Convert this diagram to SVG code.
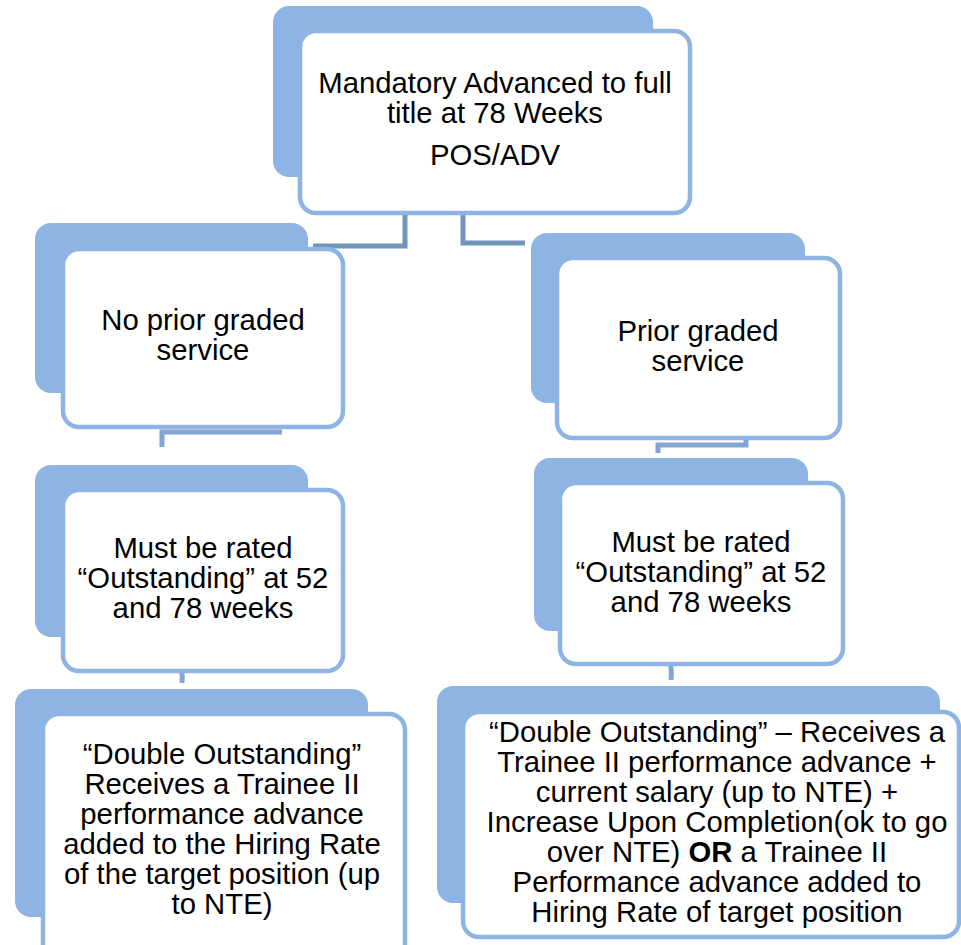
<svg xmlns="http://www.w3.org/2000/svg" width="961" height="945" viewBox="0 0 961 945">
  <style>
    .back { fill: #8EB4E3; }
    .front { fill: #FFFFFF; stroke: #8EB4E3; stroke-width: 4.5; }
    .lbl { font-family: "Liberation Sans", Arial, sans-serif; font-size: 29.3px; fill: #000000; text-anchor: middle; }
    .conn-top { fill: none; stroke: #7294BE; stroke-width: 5; }
    .conn { fill: none; stroke: #82A5D2; stroke-width: 5; }
  </style>
  <rect width="961" height="945" fill="#FFFFFF"/>

  <!-- connectors (drawn beneath the boxes) -->
  <g id="connectors">
    <path class="conn-top" d="M405,211 V246 H313"/>
    <path class="conn-top" d="M463,211 V243 H525"/>
    <path class="conn" d="M282,432 H162 V447"/>
    <path class="conn" d="M746,436 V445 H658 V453"/>
    <path class="conn" d="M181,669 Q183,676 182,683"/>
    <path class="conn" d="M670,662 Q672,670 671,680"/>
  </g>

  <!-- root -->
  <g id="node-root">
    <rect class="back" x="273" y="6" width="380" height="171" rx="16"/>
    <rect class="front" x="300" y="31" width="390" height="182" rx="16"/>
    <text class="lbl" x="495" y="93">Mandatory Advanced to full</text>
    <text class="lbl" x="495" y="123">title at 78 Weeks</text>
    <text class="lbl" x="495" y="165">POS/ADV</text>
  </g>

  <!-- left branch -->
  <g id="node-no-prior">
    <rect class="back" x="35" y="223" width="273" height="170" rx="16"/>
    <rect class="front" x="63" y="249" width="280" height="178" rx="16"/>
    <text class="lbl" x="203" y="330">No prior graded</text>
    <text class="lbl" x="203" y="360">service</text>
  </g>

  <g id="node-left-rated">
    <rect class="back" x="35" y="465" width="273" height="172" rx="16"/>
    <rect class="front" x="63" y="490" width="280" height="181" rx="16"/>
    <text class="lbl" x="203" y="558">Must be rated</text>
    <text class="lbl" x="203" y="588">“Outstanding” at 52</text>
    <text class="lbl" x="203" y="618">and 78 weeks</text>
  </g>

  <g id="node-left-result">
    <rect class="back" x="15" y="689" width="353" height="228" rx="16"/>
    <rect class="front" x="43" y="714" width="362" height="250" rx="16"/>
    <text class="lbl" x="222" y="764">“Double Outstanding”</text>
    <text class="lbl" x="222" y="794">Receives a Trainee II</text>
    <text class="lbl" x="222" y="824">performance advance</text>
    <text class="lbl" x="222" y="854">added to the Hiring Rate</text>
    <text class="lbl" x="222" y="884">of the target position (up</text>
    <text class="lbl" x="222" y="914">to NTE)</text>
  </g>

  <!-- right branch -->
  <g id="node-prior">
    <rect class="back" x="531" y="233" width="274" height="170" rx="16"/>
    <rect class="front" x="557" y="258" width="283" height="180" rx="16"/>
    <text class="lbl" x="698" y="341">Prior graded</text>
    <text class="lbl" x="698" y="371">service</text>
  </g>

  <g id="node-right-rated">
    <rect class="back" x="534" y="458" width="274" height="173" rx="16"/>
    <rect class="front" x="560" y="483" width="283" height="181" rx="16"/>
    <text class="lbl" x="701" y="552">Must be rated</text>
    <text class="lbl" x="701" y="582">“Outstanding” at 52</text>
    <text class="lbl" x="701" y="612">and 78 weeks</text>
  </g>

  <g id="node-right-result">
    <rect class="back" x="437" y="686" width="503" height="217" rx="16"/>
    <rect class="front" x="463" y="712" width="496" height="225" rx="16"/>
    <text class="lbl" x="717" y="742">“Double Outstanding” – Receives a</text>
    <text class="lbl" x="717" y="772">Trainee II performance advance +</text>
    <text class="lbl" x="717" y="802">current salary (up to NTE) +</text>
    <text class="lbl" x="717" y="832">Increase Upon Completion(ok to go</text>
    <text class="lbl" x="717" y="862">over NTE) <tspan font-weight="bold">OR</tspan> a Trainee II</text>
    <text class="lbl" x="717" y="892">Performance advance added to</text>
    <text class="lbl" x="717" y="922">Hiring Rate of target position</text>
  </g>
</svg>
